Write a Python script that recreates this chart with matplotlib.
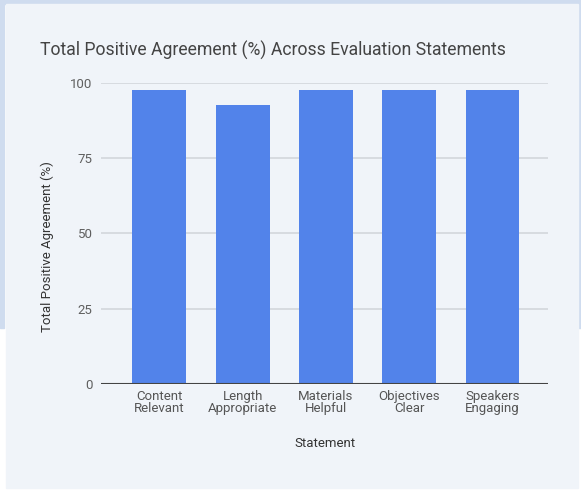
import numpy as np
import matplotlib
matplotlib.use('Agg')
import matplotlib.pyplot as plt
from matplotlib.patches import Rectangle

# chart data
categories = ['Content\nRelevant', 'Length\nAppropriate', 'Materials\nHelpful',
              'Objectives\nClear', 'Speakers\nEngaging']
agreement = [97.5, 92.5, 97.5, 97.5, 97.5]
y_ticks = [0, 25, 50, 75, 100]

plt.rcParams['font.family'] = ['Roboto', 'DejaVu Sans']

W, H = 581, 490
fig = plt.figure(figsize=(W / 100, H / 100), dpi=100, facecolor='white')

# screenshot frame: blue border round the light panel
border = '#cfdcef'
panel = '#f0f4f9'
frame = [
    ((0, 1 - 4 / H), 1, 4 / H, border),
    ((0, 1 - 328 / H), 4 / W, 328 / H, border),
    ((578 / W, 1 - 328 / H), 3 / W, 328 / H, border),
    ((6 / W, 2 / H), 572 / W, 1 - 6 / H, panel),
]
for xy, w, h, c in frame:
    fig.patches.append(Rectangle(xy, w, h, transform=fig.transFigure,
                                 color=c, zorder=-5))

ax = fig.add_axes([101 / W, 1 - 384 / H, (548.3 - 101) / W, (384 - 82.7) / H])
ax.set_facecolor('none')
ax.set_zorder(2)

x = np.arange(len(categories))
ax.bar(x, agreement, width=0.648, color='#5283ea', zorder=3)

ax.set_xlim(-0.70, 4.67)
ax.set_ylim(0, 100)
ax.set_yticks(y_ticks)
ax.set_yticklabels([str(t) for t in y_ticks], fontsize=9.5, color='#5f5f5f')
ax.set_xticks(x)
ax.set_xticklabels(categories, fontsize=9.5, color='#555555', linespacing=0.95)
ax.tick_params(axis='both', length=0)
ax.tick_params(axis='y', pad=6)
ax.tick_params(axis='x', pad=4)

ax.grid(axis='y', color='#d3d6db', linewidth=1.2, zorder=0)
ax.axhline(0, color='#444444', linewidth=1.5, zorder=4)
for s in ax.spines.values():
    s.set_visible(False)

ax.set_xlabel('Statement', fontsize=9.5, color='#333333', labelpad=16)
ax.set_ylabel('Total Positive Agreement (%)', fontsize=9.5, color='#333333')
ax.yaxis.set_label_coords(-0.105, 0.456)

fig.text(40 / W, 1 - 50 / H, 'Total Positive Agreement (%) Across Evaluation Statements',
         fontsize=12.7, color='#444444', ha='left', va='center')

fig.savefig('out.png', dpi=100, facecolor=fig.get_facecolor())
